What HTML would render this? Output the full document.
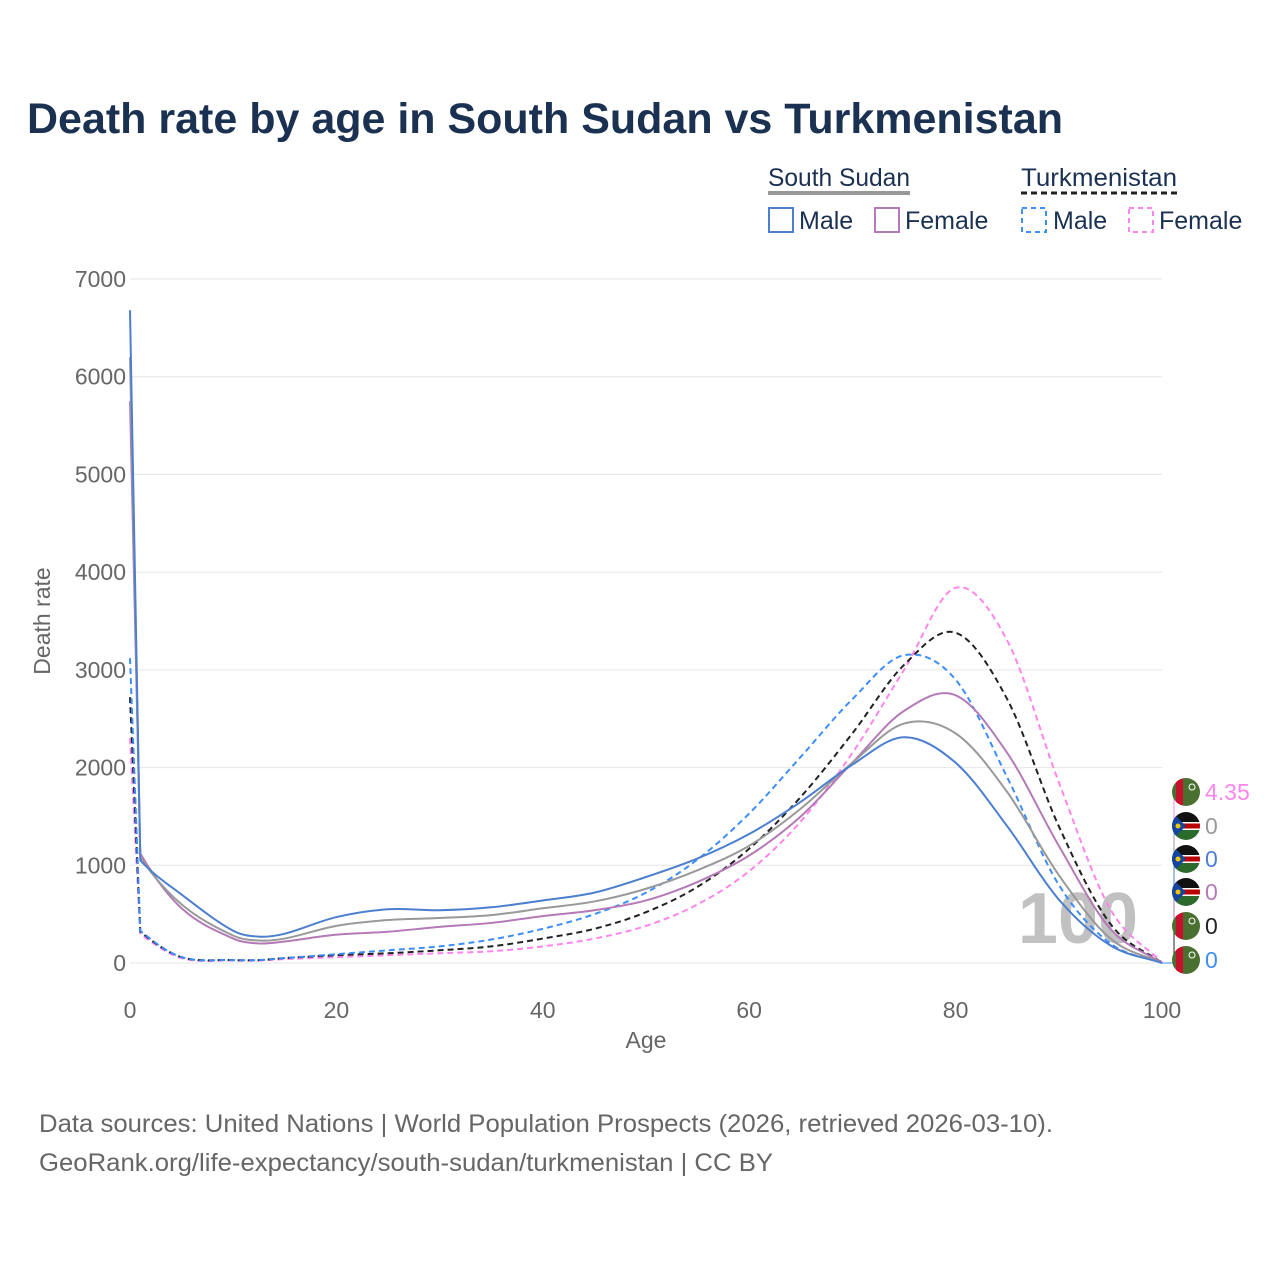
<!DOCTYPE html>
<html><head><meta charset="utf-8">
<style>
body{margin:0;background:#fff;font-family:"Liberation Sans",sans-serif}
svg text{font-family:"Liberation Sans",sans-serif}
</style></head>
<body>
<svg id="chart" width="1280" height="1280" viewBox="0 0 1280 1280" xmlns="http://www.w3.org/2000/svg">
<defs><clipPath id="fc"><circle cx="0" cy="0" r="14"/></clipPath></defs>
<text x="27" y="133" font-size="43" font-weight="bold" fill="#1b3152" textLength="1036" lengthAdjust="spacingAndGlyphs">Death rate by age in South Sudan vs Turkmenistan</text>
<g font-size="25" fill="#1b3152">
 <text x="768" y="186" textLength="142" lengthAdjust="spacingAndGlyphs">South Sudan</text>
 <line x1="768" y1="193" x2="910" y2="193" stroke="#999" stroke-width="4"/>
 <rect x="769" y="208" width="24" height="24" fill="none" stroke="#4c7fce" stroke-width="2"/>
 <text x="799" y="229">Male</text>
 <rect x="875" y="208" width="24" height="24" fill="none" stroke="#b47ab8" stroke-width="2"/>
 <text x="905" y="229">Female</text>
 <text x="1021" y="186" textLength="156" lengthAdjust="spacingAndGlyphs">Turkmenistan</text>
 <line x1="1021" y1="193" x2="1177" y2="193" stroke="#222" stroke-width="3" stroke-dasharray="6,4"/>
 <rect x="1022" y="208" width="24" height="24" fill="none" stroke="#3e8ef7" stroke-width="2" stroke-dasharray="5,4"/>
 <text x="1053" y="229">Male</text>
 <rect x="1129" y="208" width="24" height="24" fill="none" stroke="#ff85ee" stroke-width="2" stroke-dasharray="5,4"/>
 <text x="1159" y="229">Female</text>
</g>
<g id="grid"></g>
<g id="axes" font-size="23" fill="#666"></g>
<text x="1078" y="943" font-size="72" font-weight="bold" fill="#bbb" text-anchor="middle" opacity="0.9">100</text>
<g id="series"></g>
<g id="endlabels"></g>
<text x="646" y="1048" font-size="23" fill="#666" text-anchor="middle">Age</text>
<text transform="translate(50,621) rotate(-90)" font-size="23" fill="#666" text-anchor="middle">Death rate</text>
<text x="39" y="1132" font-size="25" fill="#666" textLength="1014" lengthAdjust="spacingAndGlyphs">Data sources: United Nations | World Population Prospects (2026, retrieved 2026-03-10).</text>
<text x="39" y="1171" font-size="25" fill="#666" textLength="734" lengthAdjust="spacingAndGlyphs">GeoRank.org/life-expectancy/south-sudan/turkmenistan | CC BY</text>
</svg>
<script>
const ages = [0,1,5,10,12.5,15,20,25,30,35,40,45,50,55,60,65,70,75,80,85,90,95,100];
const ssMale   = [6680,1050,700,330,270,300,470,550,540,570,640,720,880,1070,1320,1650,2030,2310,2050,1400,650,180,0];
const ssTotal  = [6200,1080,600,280,230,250,380,440,460,490,560,630,760,950,1200,1580,2050,2450,2350,1750,900,250,0];
const ssFemale = [5750,1120,560,250,200,220,290,320,370,410,480,540,640,830,1100,1500,2050,2580,2740,2150,1200,350,0];
const tkMale   = [3120,330,60,30,30,50,90,130,170,240,350,500,720,1060,1530,2110,2700,3150,2900,1900,800,200,0];
const tkTotal  = [2720,320,60,30,30,50,80,100,130,170,250,350,520,780,1170,1700,2350,3050,3380,2700,1400,400,0];
const tkFemale = [2300,300,50,25,25,40,60,80,100,120,170,250,380,600,940,1450,2150,3000,3840,3300,1850,550,5];
const yTicks = [0,1000,2000,3000,4000,5000,6000,7000];
const xTicks = [0,20,40,60,80,100];
const endValues = ["4.35","0","0","0","0","0"];

const NS="http://www.w3.org/2000/svg";
const X=a=>130+a*(1162-130)/100;
const Y=v=>963-v*(963-279)/7000;
function mk(tag,attrs,parent){const e=document.createElementNS(NS,tag);for(const k in attrs)e.setAttribute(k,attrs[k]);parent.appendChild(e);return e;}
const grid=document.getElementById('grid'),axes=document.getElementById('axes');
yTicks.forEach(t=>{
  const l=mk('line',{x1:130,x2:1162,y1:Y(t),y2:Y(t),stroke:'#e6e6e6','stroke-width':1},grid);
  
  
  const tx=mk('text',{x:126,y:Y(t)+8,'text-anchor':'end'},axes);tx.textContent=t;
  
  
});
xTicks.forEach(t=>{
  const tx=mk('text',{x:X(t),y:1018,'text-anchor':'middle'},axes);tx.textContent=t;
  
  
});
function path(vals){
  const xs=ages.map(X), ys=vals.map(Y), n=xs.length;
  const m=[];
  for(let i=2;i<n-1;i++) m[i]=(ys[i+1]-ys[i-1])/(xs[i+1]-xs[i-1]);
  m[1]=(ys[2]-ys[1])/(xs[2]-xs[1])*1.3;
  m[n-1]=(ys[n-1]-ys[n-2])/(xs[n-1]-xs[n-2]);
  let s='M'+xs[0]+','+ys[0]+' L'+xs[1]+','+ys[1];
  for(let i=1;i<n-1;i++){
    const h=(xs[i+1]-xs[i])/3;
    s+=' C'+(xs[i]+h)+','+(ys[i]+m[i]*h)+' '+(xs[i+1]-h)+','+(ys[i+1]-m[i+1]*h)+' '+xs[i+1]+','+ys[i+1];
  }
  return s;
}
const ser=document.getElementById('series');
const defs=[
 [tkFemale,'#ff85ee','6,4','line-tk-female'],
 [tkTotal,'#222','6,4','line-tk-total'],
 [tkMale,'#3e8ef7','6,4','line-tk-male'],
 [ssFemale,'#b47ab8','','line-ss-female'],
 [ssTotal,'#999','','line-ss-total'],
 [ssMale,'#4c7fce','','line-ss-male']];
defs.forEach(s=>{
  const e=mk('path',{d:path(s[0]),fill:'none',stroke:s[1],'stroke-width':2,'stroke-dasharray':s[2]||'none'},ser);
  
  
});
const el=document.getElementById('endlabels');
const lab=[[792,'#ff85ee','tk'],[826,'#999','ss'],[859,'#4c7fce','ss'],[892,'#b47ab8','ss'],[926,'#222','tk'],[960,'#3e8ef7','tk']];
lab.forEach((l,i)=>{
  mk('polyline',{points:`1162,963 1174,963 1174,${l[0]} 1180,${l[0]}`,fill:'none',stroke:l[1],'stroke-width':1},el);
  const g=mk('g',{transform:`translate(1186,${l[0]})`},el);
  
  
  const c=mk('g',{'clip-path':'url(#fc)'},g);
  if(l[2]==='tk'){
    mk('rect',{x:-14,y:-14,width:28,height:28,fill:'#4a7030'},c);
    mk('rect',{x:-10,y:-14,width:7,height:28,fill:'#c8102e'},c);
    mk('circle',{cx:6,cy:-5,r:3,fill:'none',stroke:'#fff','stroke-width':1},c);
  } else {
    mk('rect',{x:-14,y:-14,width:28,height:10,fill:'#111'},c);
    mk('rect',{x:-14,y:-4,width:28,height:8,fill:'#fff'},c);
    mk('rect',{x:-14,y:-2.5,width:28,height:5,fill:'#b00'},c);
    mk('rect',{x:-14,y:4,width:28,height:10,fill:'#2b6a2b'},c);
    mk('path',{d:'M-14,-14 L0,0 L-14,14 Z',fill:'#1446a0'},c);
    mk('circle',{cx:-8,cy:0,r:2.5,fill:'#f5c400'},c);
  }
  const t=mk('text',{x:1205,y:l[0]+8,'font-size':23,fill:l[1]},el);t.textContent=endValues[i];
  
  
});
</script>
</body></html>
